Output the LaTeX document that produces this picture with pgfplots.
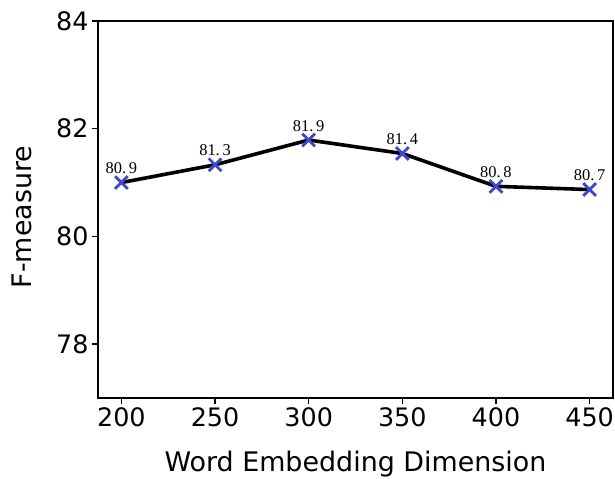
\documentclass[border=0pt]{standalone}
\usepackage{pgfplots}
\pgfplotsset{compat=1.18}
\usepackage{fontspec}
\setmainfont{DejaVu Sans}
\newfontfamily\labfont{Liberation Serif}
\definecolor{mblue}{RGB}{62,72,204}
\begin{document}
\begin{tikzpicture}
\begin{axis}[
 at={(98bp,81bp)}, anchor=south west,
 width=515bp, height=377bp, scale only axis,
 xmin=187.5, xmax=462.5, ymin=77, ymax=84,
 xtick={200,250,300,350,400,450}, ytick={78,80,82,84},
 tick align=outside, tick pos=left,
 major tick length=6bp,
 every tick/.style={black, line width=1.3bp},
 axis line style={line width=1.3bp},
 ticklabel style={font=\fontsize{25.5}{30}\selectfont},
 /pgf/number format/assume math mode=true,
 xlabel={Word Embedding Dimension}, ylabel={F-measure},
 label style={font=\fontsize{27}{30}\selectfont},
 xlabel style={at={(axis description cs:0.5,-0.176)}, anchor=center},
 ylabel style={at={(axis description cs:-0.148,0.48)}, anchor=center},
 nodes near coords, point meta=explicit symbolic,
 every node near coord/.style={font=\labfont\fontsize{16.5}{18}\selectfont, anchor=south, yshift=4bp, black},
]
\addplot[black, line width=3.6bp, mark=x, mark size=9bp, mark options={mblue, line width=2.8bp}] coordinates {
(200,81.00) [{80.\,9}]
(250,81.33) [{81.\,3}]
(300,81.79) [{81.\,9}]
(350,81.54) [{81.\,4}]
(400,80.93) [{80.\,8}]
(450,80.87) [{80.\,7}]
};
\end{axis}
\pgfresetboundingbox
\path[use as bounding box] (0,0) rectangle (615bp,479bp);
\end{tikzpicture}
\end{document}
